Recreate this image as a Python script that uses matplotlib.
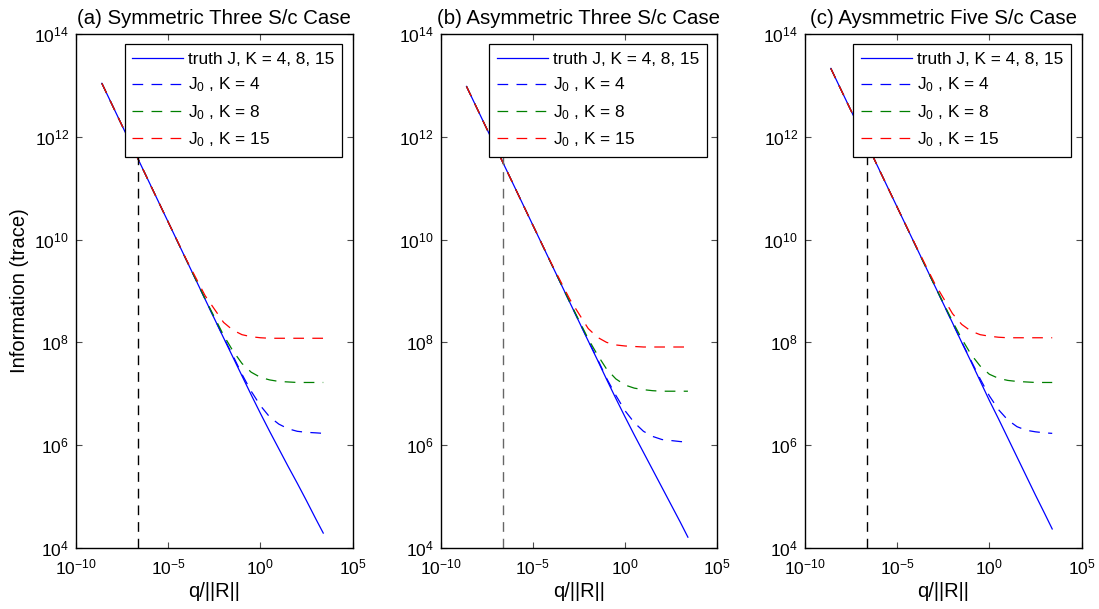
import numpy as np
import matplotlib
matplotlib.use("Agg")
from matplotlib import pyplot as plt
from matplotlib.ticker import LogFormatterMathtext, NullLocator

plt.rcParams['font.family'] = ['Liberation Sans', 'DejaVu Sans']
plt.rcParams['mathtext.fontset'] = 'custom'
plt.rcParams['mathtext.rm'] = 'Liberation Sans'
plt.rcParams['mathtext.it'] = 'Liberation Sans:italic'
plt.rcParams['mathtext.default'] = 'regular'
plt.rcParams['lines.scale_dashes'] = False

# log10(q/||R||) sample points
log_q = [-8.6, -7, -6, -5, -4, -3, -2, -1.5, -1, -0.5, 0, 0.5, 1, 1.5, 2, 2.5, 3, 3.41]

# log10 of information trace, panel (a)
a_truth = [13.04, 11.84, 11.09, 10.34, 9.59, 8.84, 8.09, 7.72, 7.35, 6.98, 6.62, 6.27, 5.93, 5.59, 5.26, 4.92, 4.57, 4.29]
a_k4 = [13.04, 11.84, 11.09, 10.34, 9.59, 8.84, 8.10, 7.75, 7.38, 7.05, 6.77, 6.55, 6.41, 6.32, 6.27, 6.25, 6.24, 6.23]
a_k8 = [13.04, 11.84, 11.09, 10.34, 9.59, 8.85, 8.14, 7.84, 7.59, 7.42, 7.32, 7.27, 7.24, 7.23, 7.22, 7.22, 7.22, 7.22]
a_k15 = [13.04, 11.84, 11.09, 10.34, 9.60, 8.91, 8.39, 8.24, 8.15, 8.11, 8.09, 8.08, 8.08, 8.08, 8.08, 8.08, 8.08, 8.08]

# panel (b)
b_truth = [12.98, 11.78, 11.03, 10.28, 9.53, 8.78, 8.03, 7.66, 7.28, 6.91, 6.55, 6.20, 5.86, 5.52, 5.18, 4.84, 4.50, 4.21]
b_k4 = [12.98, 11.78, 11.03, 10.28, 9.53, 8.78, 8.04, 7.68, 7.30, 6.97, 6.67, 6.44, 6.27, 6.17, 6.11, 6.09, 6.07, 6.06]
b_k8 = [12.98, 11.78, 11.03, 10.28, 9.53, 8.79, 8.07, 7.76, 7.48, 7.29, 7.17, 7.11, 7.08, 7.06, 7.05, 7.05, 7.05, 7.05]
b_k15 = [12.98, 11.78, 11.03, 10.28, 9.54, 8.84, 8.27, 8.10, 8.00, 7.95, 7.93, 7.92, 7.91, 7.91, 7.91, 7.91, 7.91, 7.91]

# panel (c)
c_truth = [13.33, 12.13, 11.38, 10.63, 9.88, 9.13, 8.38, 8.00, 7.63, 7.25, 6.87, 6.51, 6.14, 5.77, 5.40, 5.03, 4.67, 4.37]
c_k4 = [13.33, 12.13, 11.38, 10.63, 9.88, 9.13, 8.38, 8.01, 7.65, 7.29, 6.96, 6.69, 6.49, 6.36, 6.29, 6.26, 6.24, 6.23]
c_k8 = [13.33, 12.13, 11.38, 10.63, 9.88, 9.13, 8.41, 8.07, 7.77, 7.54, 7.38, 7.30, 7.26, 7.24, 7.23, 7.22, 7.22, 7.22]
c_k15 = [13.33, 12.13, 11.38, 10.63, 9.89, 9.17, 8.56, 8.35, 8.22, 8.15, 8.12, 8.10, 8.09, 8.09, 8.09, 8.09, 8.09, 8.09]

q_mark = 2.4e-7  # vertical dashed marker
titles = ['(a) Symmetric Three S/c Case', '(b) Asymmetric Three S/c Case', '(c) Aysmmetric Five S/c Case']
labels = ['truth J, K = 4, 8, 15', 'J$_0$ , K = 4', 'J$_0$ , K = 8', 'J$_0$ , K = 15']

panels = [(a_truth, a_k4, a_k8, a_k15),
          (b_truth, b_k4, b_k8, b_k15),
          (c_truth, c_k4, c_k8, c_k15)]
lefts = [0.0692, 0.401, 0.7325]
vcolors = ['k', '0.4', 'k']

fig = plt.figure(figsize=(10.99, 6.09), dpi=100)
q = 10.0 ** np.array(log_q)
dash = (7.7, 6.0)

for i, (truth, k4, k8, k15) in enumerate(panels):
    ax = fig.add_axes([lefts[i], 0.1002, 0.2516, 0.844])
    ax.loglog(q, 10.0 ** np.array(truth), color='b', lw=0.9, label=labels[0])
    ax.loglog(q, 10.0 ** np.array(k4), color='b', lw=0.9, dashes=dash, label=labels[1])
    ax.loglog(q, 10.0 ** np.array(k8), color=(0, 0.5, 0), lw=0.9, dashes=dash, label=labels[2])
    ax.loglog(q, 10.0 ** np.array(k15), color='r', lw=0.9, dashes=dash, label=labels[3])
    # marker line runs up behind the legend
    ax.plot([q_mark, q_mark], [1e4, 1e12], color=vcolors[i], lw=1.0, dashes=(7.0, 5.0))

    ax.set_xlim(1e-10, 1e5)
    ax.set_ylim(1e4, 1e14)
    ax.set_xticks([1e-10, 1e-5, 1e0, 1e5])
    ax.set_yticks([1e4, 1e6, 1e8, 1e10, 1e12, 1e14])
    ax.xaxis.set_major_formatter(LogFormatterMathtext())
    ax.yaxis.set_major_formatter(LogFormatterMathtext())
    ax.xaxis.set_minor_locator(NullLocator())
    ax.yaxis.set_minor_locator(NullLocator())
    ax.tick_params(direction='in', top=True, right=True, length=4, width=0.8,
                   labelsize=12.5, color='0.3', pad=5)
    ax.tick_params(axis='x', pad=7)
    for sp in ax.spines.values():
        sp.set_linewidth(1.0)
    ax.set_title(titles[i], fontsize=14.7, pad=7)
    ax.set_xlabel('q/||R||', fontsize=14.5, labelpad=3)
    if i == 0:
        ax.set_ylabel('Information (trace)', fontsize=14.5)

    leg = ax.legend(loc='upper right', fontsize=12.4, handlelength=2.95, handletextpad=0.3,
                    borderaxespad=0.6, labelspacing=0.5, fancybox=False,
                    edgecolor='k', framealpha=1, borderpad=0.45)
    leg.get_frame().set_linewidth(0.9)

fig.savefig('out.png', dpi=100)
